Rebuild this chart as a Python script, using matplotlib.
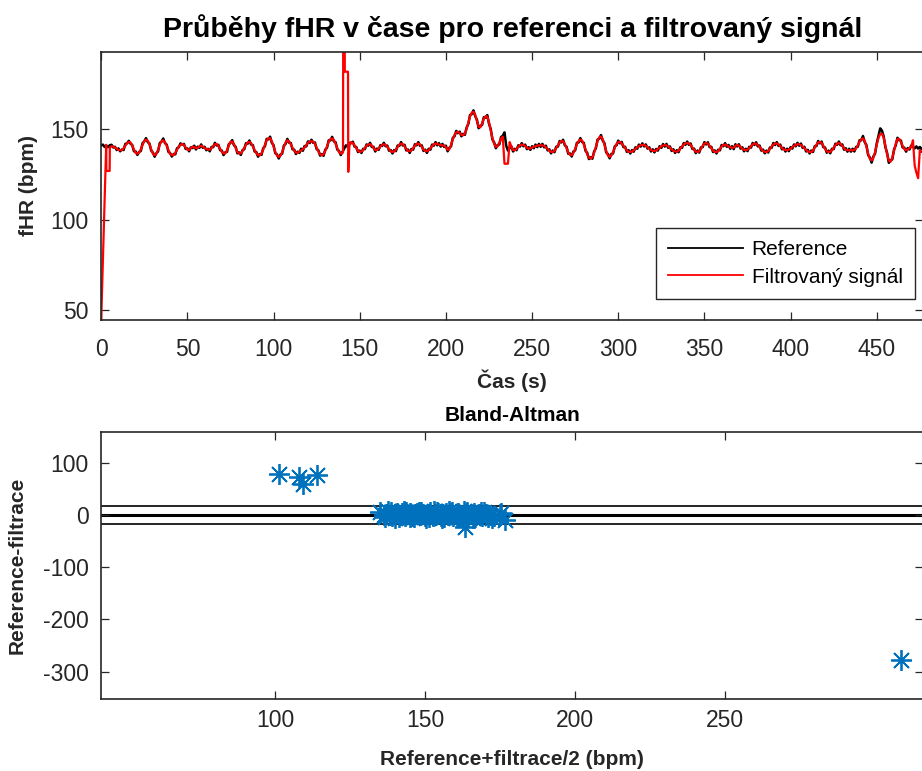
import numpy as np
import matplotlib
matplotlib.use("Agg")
import matplotlib.pyplot as plt

plt.rcParams['font.family'] = ['Liberation Sans', 'DejaVu Sans']
plt.rcParams['axes.unicode_minus'] = False

# ---- fHR traces, one sample per second ----
time_s = np.arange(478)

reference_bpm = [
    141.2, 141.6, 140.3, 141.0, 140.2, 141.3, 141.5, 140.0, 140.4, 138.6,
    139.5, 137.9, 138.9, 138.6, 142.0, 142.3, 143.7, 142.1, 141.4, 137.9,
    137.8, 135.9, 137.5, 138.1, 142.4, 143.4, 145.2, 143.0, 142.2, 138.3,
    137.2, 134.9, 136.8, 137.9, 142.5, 143.2, 145.0, 142.4, 141.6, 137.6,
    136.9, 135.0, 136.4, 136.2, 139.6, 140.1, 142.3, 141.6, 142.0, 139.2,
    139.5, 137.9, 140.1, 139.7, 141.0, 138.9, 140.5, 139.8, 141.7, 139.8,
    140.4, 138.5, 139.3, 137.9, 140.3, 140.2, 142.6, 141.1, 141.5, 138.5,
    138.3, 135.8, 137.4, 137.6, 141.8, 142.5, 144.1, 141.3, 140.4, 136.8,
    137.3, 135.9, 138.6, 139.0, 142.4, 142.1, 143.9, 141.6, 141.3, 137.8,
    137.5, 134.9, 136.4, 135.9, 139.6, 140.7, 144.8, 144.5, 146.0, 142.6,
    141.3, 136.8, 136.2, 133.9, 136.1, 136.6, 141.1, 142.0, 144.8, 142.7,
    142.5, 139.0, 138.8, 136.4, 137.7, 137.0, 139.3, 138.2, 140.8, 140.6,
    143.4, 142.5, 144.3, 142.6, 142.8, 139.1, 138.5, 135.5, 136.4, 135.4,
    138.8, 139.8, 144.0, 143.9, 145.9, 143.4, 142.9, 138.8, 138.1, 135.8,
    137.6, 139.3, 141.2, 140.4, 142.6, 142.4, 143.2, 140.5, 140.3, 137.5,
    138.3, 137.0, 139.3, 139.1, 141.7, 141.0, 142.6, 140.3, 140.4, 137.8,
    139.4, 138.7, 141.3, 140.8, 142.6, 140.7, 141.1, 138.2, 138.6, 136.7,
    138.6, 138.0, 141.1, 140.9, 143.0, 141.1, 141.5, 138.4, 138.9, 137.0,
    139.2, 138.8, 141.8, 141.2, 143.0, 140.9, 141.2, 138.1, 138.8, 137.0,
    139.3, 138.8, 141.6, 141.0, 143.0, 141.2, 142.4, 140.5, 142.0, 140.3,
    141.0, 137.9, 139.8, 140.7, 145.3, 146.2, 149.2, 147.9, 148.8, 146.2,
    147.6, 147.0, 151.0, 153.0, 158.0, 158.5, 160.6, 157.4, 155.4, 150.7,
    152.0, 152.5, 156.8, 156.5, 158.0, 153.2, 150.3, 144.4, 142.8, 139.6,
    141.4, 141.7, 145.8, 146.5, 148.4, 141.0, 138.3, 139.7, 140.6, 137.8,
    139.3, 138.5, 141.2, 140.5, 142.4, 140.7, 141.6, 139.1, 140.2, 138.7,
    140.7, 139.6, 141.6, 140.2, 142.0, 140.4, 142.0, 140.1, 141.0, 138.4,
    139.0, 136.8, 138.3, 137.4, 140.4, 140.5, 143.6, 142.8, 144.3, 141.2,
    140.4, 136.5, 136.7, 135.0, 137.8, 138.4, 142.6, 142.8, 145.2, 143.1,
    142.6, 138.2, 137.0, 133.6, 134.6, 133.8, 137.8, 139.5, 144.4, 144.9,
    146.9, 143.8, 142.4, 137.3, 136.4, 134.0, 136.4, 136.7, 140.7, 141.2,
    143.8, 142.3, 143.1, 140.2, 140.4, 137.6, 138.5, 136.7, 138.6, 137.7,
    140.1, 139.3, 141.6, 140.5, 142.3, 140.6, 141.7, 139.4, 140.1, 137.8,
    139.0, 137.3, 139.2, 138.3, 140.7, 139.8, 141.9, 140.5, 142.0, 139.8,
    140.6, 138.1, 139.0, 137.0, 138.5, 137.4, 140.1, 139.8, 142.5, 141.5,
    143.3, 141.5, 142.2, 139.2, 139.4, 136.9, 138.3, 137.2, 140.1, 140.2,
    143.0, 141.7, 142.9, 140.2, 140.4, 137.5, 138.4, 136.7, 138.8, 138.4,
    141.4, 140.7, 142.4, 140.4, 141.4, 139.3, 140.7, 139.1, 141.8, 140.6,
    141.8, 139.4, 140.1, 137.9, 139.3, 138.0, 140.4, 139.9, 142.5, 141.4,
    142.9, 140.6, 141.1, 138.3, 138.9, 136.8, 138.3, 137.2, 140.0, 139.8,
    142.5, 141.4, 143.0, 140.9, 141.6, 139.0, 139.8, 137.8, 139.3, 138.0,
    140.2, 139.4, 141.7, 140.7, 142.6, 141.0, 142.2, 139.8, 140.4, 137.8,
    138.7, 136.7, 138.3, 137.5, 140.7, 140.8, 143.6, 142.3, 143.3, 140.2,
    140.0, 137.1, 138.3, 136.8, 139.3, 139.1, 142.1, 141.5, 143.3, 141.2,
    141.7, 138.8, 139.6, 137.7, 139.3, 137.7, 139.3, 137.8, 140.3, 140.4,
    144.0, 144.0, 146.4, 143.0, 141.3, 135.8, 134.5, 131.6, 135.0, 136.6,
    142.4, 146.6, 150.6, 149.4, 146.2, 140.2, 137.0, 131.5, 132.9, 133.4,
    138.8, 141.2, 145.4, 144.0, 143.9, 140.0, 139.9, 137.7, 139.7, 138.9,
    141.1, 140.4, 139.5, 140.6, 139.4, 140.3, 139.1, 139.8,
]

filtered_bpm = [
    44.5, 78.0, 111.4, 127.0, 127.0, 140.0, 140.7, 140.5, 140.0, 139.3,
    138.7, 138.5, 138.6, 139.5, 141.0, 142.5, 143.1, 142.8, 141.0, 138.8,
    137.0, 136.6, 137.2, 139.0, 141.5, 143.6, 144.4, 143.8, 141.8, 139.0,
    136.6, 135.7, 136.5, 138.8, 141.6, 143.5, 144.0, 143.0, 141.0, 138.6,
    136.5, 135.8, 135.8, 137.0, 138.8, 140.5, 141.5, 142.0, 141.4, 140.0,
    138.7, 138.6, 139.6, 140.5, 140.2, 139.6, 139.8, 140.6, 141.0, 140.5,
    139.7, 139.2, 138.9, 138.8, 139.6, 140.9, 141.8, 141.9, 140.9, 139.3,
    137.6, 136.7, 136.8, 138.4, 141.0, 143.2, 143.3, 142.0, 139.8, 137.6,
    136.6, 136.8, 138.0, 139.8, 141.6, 142.8, 143.1, 142.4, 140.6, 138.6,
    136.8, 135.8, 135.7, 136.7, 138.8, 141.5, 144.0, 145.2, 145.1, 143.4,
    140.6, 137.6, 135.5, 134.8, 135.4, 137.4, 140.3, 142.8, 144.0, 143.4,
    141.8, 139.8, 138.1, 137.2, 137.0, 137.8, 138.5, 139.0, 140.0, 141.4,
    142.6, 143.3, 143.5, 143.3, 142.0, 139.9, 137.8, 136.3, 135.7, 136.2,
    138.0, 140.6, 143.2, 144.7, 145.0, 144.2, 142.1, 139.6, 137.4, 136.6,
    137.0, 193.0, 182.0, 182.0, 141.0, 143.0, 142.5, 141.2, 139.6, 138.2,
    137.6, 137.8, 138.6, 139.8, 141.0, 141.7, 141.8, 141.1, 139.7, 138.6,
    138.6, 139.4, 140.6, 141.5, 141.8, 141.5, 140.4, 139.0, 137.9, 137.5,
    137.8, 138.8, 140.3, 141.6, 142.2, 141.9, 140.7, 139.2, 138.1, 137.9,
    138.4, 139.6, 141.0, 142.0, 142.2, 141.7, 140.4, 138.9, 138.0, 137.9,
    138.5, 139.6, 140.8, 141.8, 142.2, 142.0, 141.6, 141.3, 141.2, 141.1,
    140.2, 138.7, 139.0, 141.5, 144.5, 147.0, 148.4, 148.7, 148.0, 147.0,
    146.8, 147.8, 150.2, 153.8, 157.2, 159.3, 159.8, 158.2, 154.6, 151.5,
    151.2, 153.3, 156.0, 157.3, 157.2, 154.0, 149.5, 145.2, 142.0, 140.4,
    140.6, 142.5, 145.0, 146.0, 131.0, 131.0, 131.0, 143.0, 140.5, 138.6,
    138.5, 139.3, 140.4, 141.3, 141.6, 141.5, 140.8, 139.9, 139.4, 139.5,
    139.9, 140.4, 140.8, 141.0, 141.2, 141.2, 141.2, 140.9, 140.2, 139.2,
    138.2, 137.6, 137.5, 138.2, 139.6, 141.3, 142.8, 143.6, 143.5, 142.0,
    139.6, 137.3, 135.9, 135.8, 137.0, 139.2, 141.8, 143.6, 144.4, 143.9,
    141.8, 139.0, 136.2, 134.4, 133.8, 134.6, 137.0, 140.3, 143.6, 145.7,
    146.1, 144.6, 141.6, 138.1, 135.6, 134.8, 135.6, 137.5, 139.9, 142.0,
    143.0, 143.1, 142.3, 141.0, 139.6, 138.4, 137.7, 137.5, 137.8, 138.5,
    139.3, 140.1, 140.8, 141.3, 141.5, 141.4, 140.9, 140.2, 139.3, 138.6,
    138.2, 138.1, 138.4, 139.1, 139.9, 140.6, 141.1, 141.3, 141.2, 140.6,
    139.8, 138.9, 138.2, 137.8, 137.7, 138.2, 139.3, 140.6, 141.7, 142.3,
    142.5, 142.3, 141.4, 140.0, 138.6, 137.7, 137.5, 138.0, 139.3, 141.0,
    142.2, 142.5, 142.1, 141.0, 139.6, 138.3, 137.6, 137.5, 138.0, 139.2,
    140.6, 141.5, 141.6, 141.2, 140.6, 140.1, 139.9, 139.9, 141.0, 141.4,
    141.0, 140.2, 139.3, 138.7, 138.5, 138.8, 139.6, 140.7, 141.7, 142.2,
    142.1, 141.4, 140.3, 139.1, 138.1, 137.6, 137.5, 138.0, 139.2, 140.6,
    141.7, 142.2, 142.2, 141.7, 140.8, 139.8, 139.0, 138.6, 138.5, 138.8,
    139.4, 140.2, 140.9, 141.5, 141.8, 141.8, 141.4, 140.6, 139.6, 138.6,
    137.9, 137.5, 137.5, 138.3, 139.9, 141.6, 142.8, 143.1, 142.5, 141.0,
    139.2, 137.9, 137.5, 137.6, 138.5, 139.9, 141.3, 142.3, 142.5, 142.0,
    140.9, 139.6, 138.8, 138.5, 138.5, 138.5, 138.5, 138.6, 139.5, 141.2,
    143.2, 144.6, 145.0, 143.8, 140.5, 136.6, 133.7, 132.9, 134.2, 137.4,
    141.6, 145.3, 147.4, 147.6, 145.4, 141.0, 136.2, 132.8, 132.1, 134.2,
    138.0, 142.0, 144.6, 144.8, 143.1, 140.8, 139.1, 138.5, 138.9, 139.7,
    140.3, 144.0, 130.0, 126.0, 123.0, 138.5, 137.5, 138.2,
]

# sub-second samples of the filtered trace around its step artefacts
filtered_extra_s = [2.9, 3.1, 4.9, 140.3, 140.4, 141.3, 141.35, 143.2, 143.35]
filtered_extra_bpm = [141.5, 127.0, 127.0, 137.2, 193.0, 193.0, 182.0, 182.0, 126.5]

# ---- Bland-Altman ----
ba_mean = [101.4, 107.8, 109.4, 113.9, 163.3, 308.6,
           135.0, 136.2, 137.0, 138.1, 139.0, 139.8, 140.7, 141.5, 142.3, 143.2,
           144.0, 144.9, 145.7, 146.6, 147.4, 148.3, 149.1, 150.0, 150.8, 151.7,
           152.5, 153.4, 154.2, 155.1, 155.9, 156.8, 157.6, 158.5, 159.3, 160.2,
           161.0, 161.9, 162.7, 163.6, 164.4, 165.3, 166.1, 167.0, 168.0, 169.0,
           170.2, 171.5, 173.0, 174.8, 176.7,
           137.5, 140.0, 142.8, 145.0, 147.9, 150.4, 153.0, 155.5, 158.0, 160.6,
           163.0, 165.8, 168.5, 171.0,
           136.6, 138.6, 141.1, 143.6, 146.2, 148.7, 151.2, 153.8, 156.3, 158.9,
           161.4, 164.0, 166.6, 169.5, 172.3, 175.2]
ba_diff = [77.7, 72.0, 58.6, 76.4, -24.0, -277.7,
           5.0, -1.2, 2.1, 0.4, -2.5, 1.8, 3.9, -0.8, 2.6, -1.9,
           0.9, 4.2, -2.8, 1.3, 3.1, -0.5, 2.4, -3.1, 0.7, 4.6,
           -1.6, 1.9, 3.3, -2.2, 0.2, 2.8, -0.9, 4.0, -2.6, 1.5,
           3.6, -1.4, 0.6, 2.9, -2.0, 1.1, 3.7, -1.0, 2.2, -2.9,
           1.6, 0.3, -1.8, 2.5, -9.0,
           6.8, -5.5, 7.4, -4.8, 6.2, -6.0, 7.9, -5.2, 6.5, -4.4,
           7.1, -5.8, 5.9, -3.6,
           -4.1, 5.6, -3.3, 6.0, -4.6, 5.2, -3.8, 6.4, -4.9, 5.5,
           -3.1, 6.1, -4.3, 4.8, -5.1, 4.4]
ba_bias = -0.3
ba_limits = [17.3, -17.9]

AX_COLOR = '#262626'
W, H = 922, 771

fig = plt.figure(figsize=(W / 100, H / 100), dpi=100)


def frame(left, top, right, bottom):
    return [left / W, 1 - bottom / H, (right - left) / W, (bottom - top) / H]


def style_axes(ax, xpad, ypad):
    for sp in ax.spines.values():
        sp.set_color(AX_COLOR)
        sp.set_linewidth(1.2)
    ax.tick_params(direction='in', length=5.8, width=0.9, colors=AX_COLOR,
                   labelsize=16.5, top=True, right=True)
    ax.tick_params(axis='x', pad=xpad)
    ax.tick_params(axis='y', pad=ypad)


# ---- top: fHR over time ----
ax1 = fig.add_axes(frame(101.2, 51.7, 923.3, 320))
t_f = np.concatenate([time_s, filtered_extra_s])
v_f = np.concatenate([filtered_bpm, filtered_extra_bpm])
order = np.argsort(t_f, kind='stable')
ax1.plot(time_s, reference_bpm, color='black', lw=1.8, label='Reference')
ax1.plot(t_f[order], v_f[order], color='#FF0000', lw=1.6, label='Filtrovaný signál')
ax1.set_xlim(0, 477)
ax1.set_ylim(44.4, 193.1)
ax1.set_xticks(np.arange(0, 451, 50))
ax1.set_yticks([50, 100, 150])
style_axes(ax1, 13, 9)
ax1.set_title('Průběhy fHR v čase pro referenci a filtrovaný signál',
              fontsize=20.5, fontweight='bold', color='black', pad=10.5)
ax1.set_xlabel('Čas (s)', fontsize=15, fontweight='bold', color=AX_COLOR, va='center')
ax1.set_ylabel('fHR (bpm)', fontsize=15, fontweight='bold', color=AX_COLOR, va='center')
ax1.xaxis.set_label_coords(0.5, -0.227)
ax1.yaxis.set_label_coords(-0.0885, 0.5)
leg = ax1.legend(loc='upper right', bbox_to_anchor=(915 / W, 1 - 227.5 / H),
                 bbox_transform=fig.transFigure, fontsize=15, fancybox=False,
                 framealpha=1, edgecolor=AX_COLOR, handlelength=3.6,
                 handletextpad=0.4, borderpad=0.6, labelspacing=0.42,
                 borderaxespad=0)
leg.get_frame().set_linewidth(1.0)
for ln in leg.get_lines():
    ln.set_linewidth(1.3)

# ---- bottom: Bland-Altman ----
ax2 = fig.add_axes(frame(101.2, 432.3, 923.3, 699.3))
ax2.axhline(ba_bias, color='black', lw=2.2, zorder=1)
for lim in ba_limits:
    ax2.axhline(lim, color='black', lw=1.2, zorder=1)
ax2.plot(ba_mean, ba_diff, linestyle='none', marker=(8, 2, 0), markersize=15,
         markeredgewidth=1.3, color='#0072BD', zorder=2)
ax2.set_xlim(42, 316)
ax2.set_ylim(-353, 158)
ax2.set_xticks([100, 150, 200, 250])
ax2.set_yticks([-300, -200, -100, 0, 100])
style_axes(ax2, 7, 9)
ax2.set_title('Bland-Altman', fontsize=15, fontweight='bold', color='black', pad=8)
ax2.set_xlabel('Reference+filtrace/2 (bpm)', fontsize=15, fontweight='bold',
               color=AX_COLOR, va='center')
ax2.set_ylabel('Reference-filtrace', fontsize=15, fontweight='bold',
               color=AX_COLOR, va='center')
ax2.xaxis.set_label_coords(0.5, -0.2236)
ax2.yaxis.set_label_coords(-0.1018, 0.5)

fig.savefig('out.png', dpi=100)
